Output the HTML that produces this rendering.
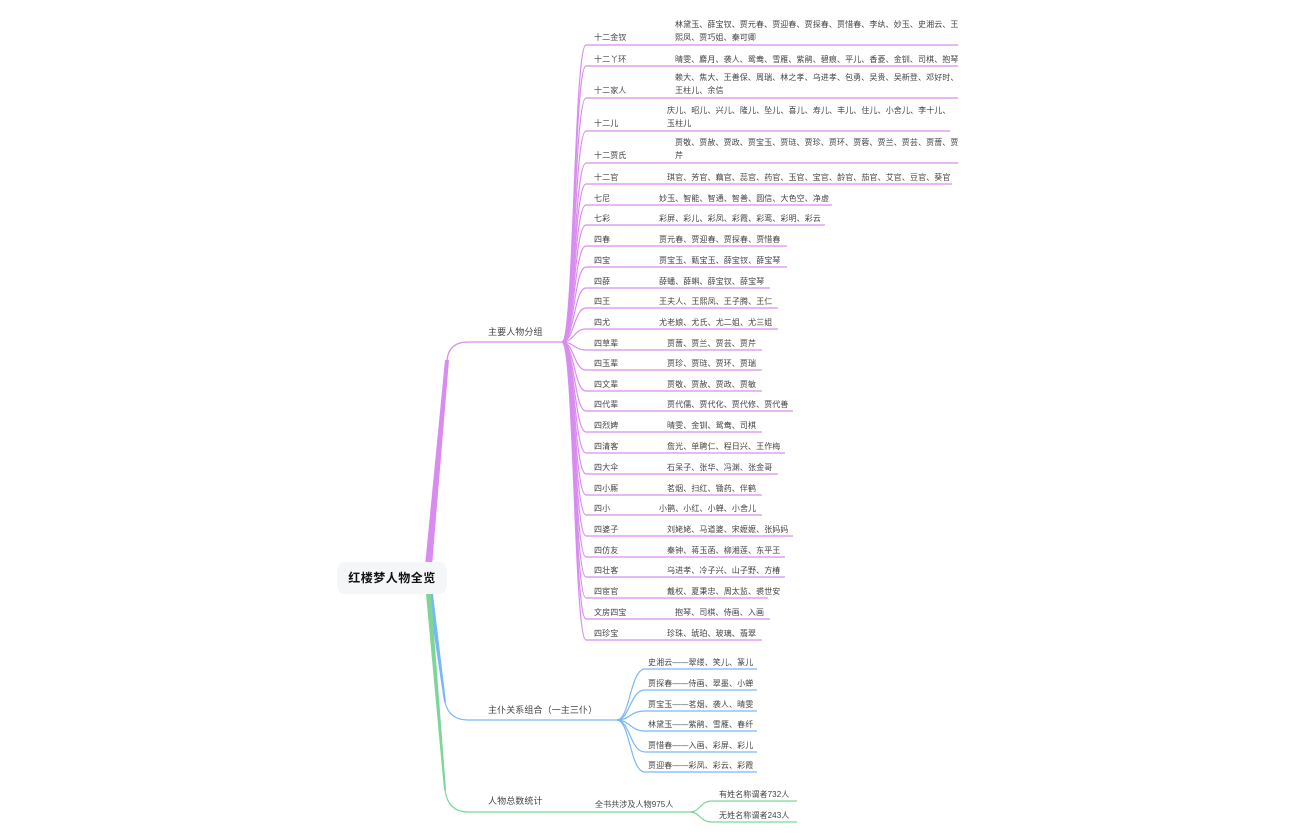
<!DOCTYPE html>
<html><head><meta charset="utf-8"><style>
html,body{margin:0;padding:0;background:#fff;}
svg{display:block;}
text{font-family:"Liberation Sans","Noto Sans CJK SC",sans-serif;font-size:8px;fill:#444;letter-spacing:0.1px;}
.m{font-size:9px;}
.r{font-size:12px;font-weight:bold;fill:#111;letter-spacing:0.5px;}
.p{fill:none;stroke:#d98cf0;stroke-width:1.2;}
.b{fill:none;stroke:#79b8f5;stroke-width:1.2;}
.g{fill:none;stroke:#7dd698;stroke-width:1.2;}
</style></head><body>
<svg width="1296" height="840" viewBox="0 0 1296 840" xmlns="http://www.w3.org/2000/svg">
<path d="M427,566 L447,360 Q449,342 468,342 L562,342" fill="none" stroke="#d98cf0" stroke-width="1.3"/>
<path d="M425,566 L445,360 L449,360 L432,566 Z" fill="#d98cf0"/>
<path d="M430,594 L445,702 Q449,720 468,720 L617,720" class="b"/>
<path d="M428,594 L433,594 L446,702 L444,702 Z" fill="#79b8f5"/>
<path d="M428,594 L445,790 Q448,812 468,812 L690,812" class="g"/>
<path d="M426,594 L431,594 L446,790 L444,790 Z" fill="#7dd698"/>
<rect x="337" y="562" width="110" height="32" rx="8" fill="#f5f6f8"/>
<text x="392" y="582" text-anchor="middle" class="r">红楼梦人物全览</text>
<text x="488" y="335" class="m">主要人物分组</text>
<text x="488" y="713" class="m">主仆关系组合（一主三仆）</text>
<text x="488" y="804" class="m">人物总数统计</text>
<text x="595" y="807">全书共涉及人物975人</text>
<g id="purple"></g>
<g id="blue"></g>
<g id="green"></g>
</svg>
<script>
var NS="http://www.w3.org/2000/svg";
function el(p,t,a,txt){var e=document.createElementNS(NS,t);for(var k in a)e.setAttribute(k,a[k]);if(txt)e.textContent=txt;p.appendChild(e);return e;}
var P=document.getElementById('purple');
var rows=[
["十二金钗",45,958,675,["林黛玉、薛宝钗、贾元春、贾迎春、贾探春、贾惜春、李纨、妙玉、史湘云、王","熙凤、贾巧姐、秦可卿"]],
["十二丫环",66,958,675,["晴雯、麝月、袭人、鸳鸯、雪雁、紫鹃、碧痕、平儿、香菱、金钏、司棋、抱琴"]],
["十二家人",98,958,675,["赖大、焦大、王善保、周瑞、林之孝、乌进孝、包勇、吴贵、吴新登、邓好时、","王柱儿、余信"]],
["十二儿",131,950,667,["庆儿、昭儿、兴儿、隆儿、坠儿、喜儿、寿儿、丰儿、住儿、小舍儿、李十儿、","玉柱儿"]],
["十二贾氏",163,958,675,["贾敬、贾赦、贾政、贾宝玉、贾琏、贾珍、贾环、贾蓉、贾兰、贾芸、贾蔷、贾","芹"]],
["十二官",184,952,667,["琪官、芳官、藕官、蕊官、药官、玉官、宝官、龄官、茄官、艾官、豆官、葵官"]],
["七尼",205,832,659,["妙玉、智能、智通、智善、圆信、大色空、净虚"]],
["七彩",225,825,659,["彩屏、彩儿、彩凤、彩霞、彩鸾、彩明、彩云"]],
["四春",246,787,659,["贾元春、贾迎春、贾探春、贾惜春"]],
["四宝",267,787,659,["贾宝玉、甄宝玉、薛宝钗、薛宝琴"]],
["四薛",288,770,659,["薛蟠、薛蝌、薛宝钗、薛宝琴"]],
["四王",308,778,659,["王夫人、王熙凤、王子腾、王仁"]],
["四尤",329,778,659,["尤老娘、尤氏、尤二姐、尤三姐"]],
["四草辈",350,762,667,["贾蔷、贾兰、贾芸、贾芹"]],
["四玉辈",370,762,667,["贾珍、贾琏、贾环、贾瑞"]],
["四文辈",391,762,667,["贾敬、贾赦、贾政、贾敏"]],
["四代辈",411,793,667,["贾代儒、贾代化、贾代修、贾代善"]],
["四烈婢",432,762,667,["晴雯、金钏、鸳鸯、司棋"]],
["四清客",453,785,667,["詹光、单聘仁、程日兴、王作梅"]],
["四大伞",474,778,667,["石呆子、张华、冯渊、张金哥"]],
["四小厮",495,762,667,["茗烟、扫红、锄药、伴鹤"]],
["四小",515,762,659,["小鹊、小红、小蝉、小舍儿"]],
["四婆子",536,793,667,["刘姥姥、马道婆、宋嬷嬷、张妈妈"]],
["四仿友",557,785,667,["秦钟、蒋玉菡、柳湘莲、东平王"]],
["四壮客",577,785,667,["乌进孝、冷子兴、山子野、方椿"]],
["四宦官",598,768,667,["戴权、夏秉忠、周太监、裘世安"]],
["文房四宝",619,770,675,["抱琴、司棋、侍画、入画"]],
["四珍宝",640,762,667,["珍珠、琥珀、玻璃、翡翠"]]
];
rows.forEach(function(r){
 var y=r[1];
 el(P,'path',{d:"M562,342 C574,342 574,"+y+" 586,"+y+" L"+r[2]+","+y,'class':'p'});
 var ty=y-4;
 if(r[4].length==2){el(P,'text',{x:594,y:y-5},r[0]);el(P,'text',{x:r[3],y:y-18},r[4][0]);el(P,'text',{x:r[3],y:y-5},r[4][1]);}
 else{el(P,'text',{x:594,y:ty},r[0]);el(P,'text',{x:r[3],y:ty},r[4][0]);}
});
var B=document.getElementById('blue');
[["史湘云——翠缕、笑儿、篆儿",669],["贾探春——侍画、翠墨、小蝉",690],["贾宝玉——茗烟、袭人、晴雯",711],["林黛玉——紫鹃、雪雁、春纤",731],["贾惜春——入画、彩屏、彩儿",752],["贾迎春——彩凤、彩云、彩霞",772]].forEach(function(r){
 var y=r[1];
 el(B,'path',{d:"M617,720 C630,720 630,"+y+" 645,"+y+" L757,"+y,'class':'b'});
 el(B,'text',{x:648,y:y-4},r[0]);
});
var G=document.getElementById('green');
[["有姓名称谓者732人",801],["无姓名称谓者243人",822]].forEach(function(r){
 var y=r[1];
 el(G,'path',{d:"M690,812 C700,812 700,"+y+" 712,"+y+" L797,"+y,'class':'g'});
 el(G,'text',{x:719,y:y-4},r[0]);
});
</script>
</body></html>
